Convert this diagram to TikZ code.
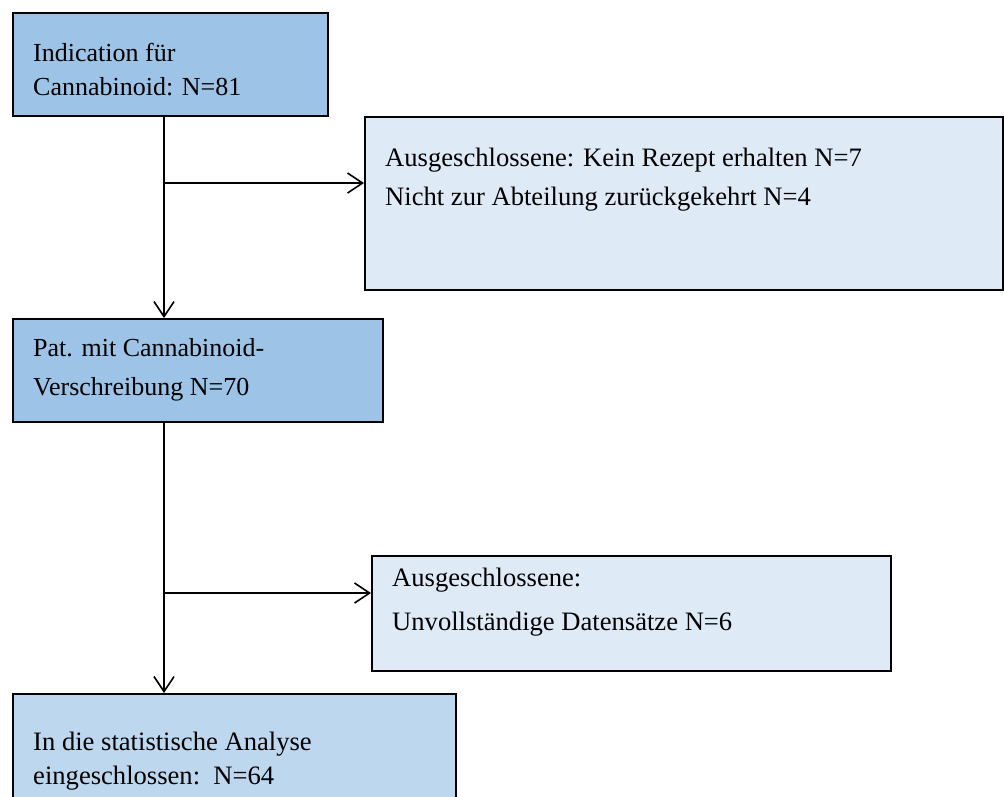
\documentclass[tikz,border=0pt]{standalone}
\usepackage{fontspec}
\setmainfont{Liberation Serif}
\usetikzlibrary{arrows.meta}
\definecolor{boxdark}{HTML}{9DC3E6}
\definecolor{boxlight}{HTML}{DEEBF7}
\definecolor{boxmid}{HTML}{BDD7EE}
\begin{document}
\begin{tikzpicture}[x=1pt,y=-1pt,
  box/.style={draw=black, line width=1.6pt, inner sep=0pt, anchor=north west},
  lbl/.style={anchor=base west, inner sep=0pt, font=\fontsize{26.6}{30}\selectfont},
  lblsmall/.style={anchor=base west, inner sep=0pt, font=\fontsize{26}{30}\selectfont},
  conn/.style={line width=1.6pt, -{Straight Barb[length=15pt,width=20pt,line width=1.6pt]}},
  plain/.style={line width=1.6pt}]
\path[use as bounding box] (0,0) rectangle (1004,796);
\clip (0,0) rectangle (1004,796);
% boxes
\node[box, fill=boxdark, minimum width=315pt, minimum height=103pt] (b1) at (12,12) {};
\node[box, fill=boxlight, minimum width=638pt, minimum height=173pt] (b2) at (364,116) {};
\node[box, fill=boxdark, minimum width=370pt, minimum height=103pt] (b3) at (12,318) {};
\node[box, fill=boxlight, minimum width=519pt, minimum height=115pt] (b4) at (371,555) {};
\node[box, fill=boxmid, minimum width=443pt, minimum height=120pt] (b5) at (12,693) {};
% texts
\node[lblsmall] (t1a) at (33,61) {Indication für};
\node[lblsmall] (t1b) at (33,95) {Cannabinoid: N=81};
\node[lbl] (t2a) at (385,166) {Ausgeschlossene: Kein Rezept erhalten N=7};
\node[lbl] (t2b) at (385,205) {Nicht zur Abteilung zurückgekehrt N=4};
\node[lblsmall] (t3a) at (33,356) {Pat. mit Cannabinoid-};
\node[lblsmall] (t3b) at (33,395) {Verschreibung N=70};
\node[lbl] (t4a) at (392,586) {Ausgeschlossene:};
\node[lbl] (t4b) at (392,630) {Unvollständige Datensätze N=6};
\node[lbl] (t5a) at (33,750) {In die statistische Analyse};
\node[lbl] (t5b) at (33,784) {eingeschlossen:~~N=64};
% connectors
\coordinate (sp) at (164,0);
\coordinate (j1) at (164,183);
\coordinate (j2) at (164,593);
\draw[conn] (b1.south -| sp) -- (b3.north -| sp);
\draw[conn] (j1) -- (j1 -| b2.west);
\draw[conn] (b3.south -| sp) -- (b5.north -| sp);
\draw[conn] (j2) -- (j2 -| b4.west);
\end{tikzpicture}
\end{document}
